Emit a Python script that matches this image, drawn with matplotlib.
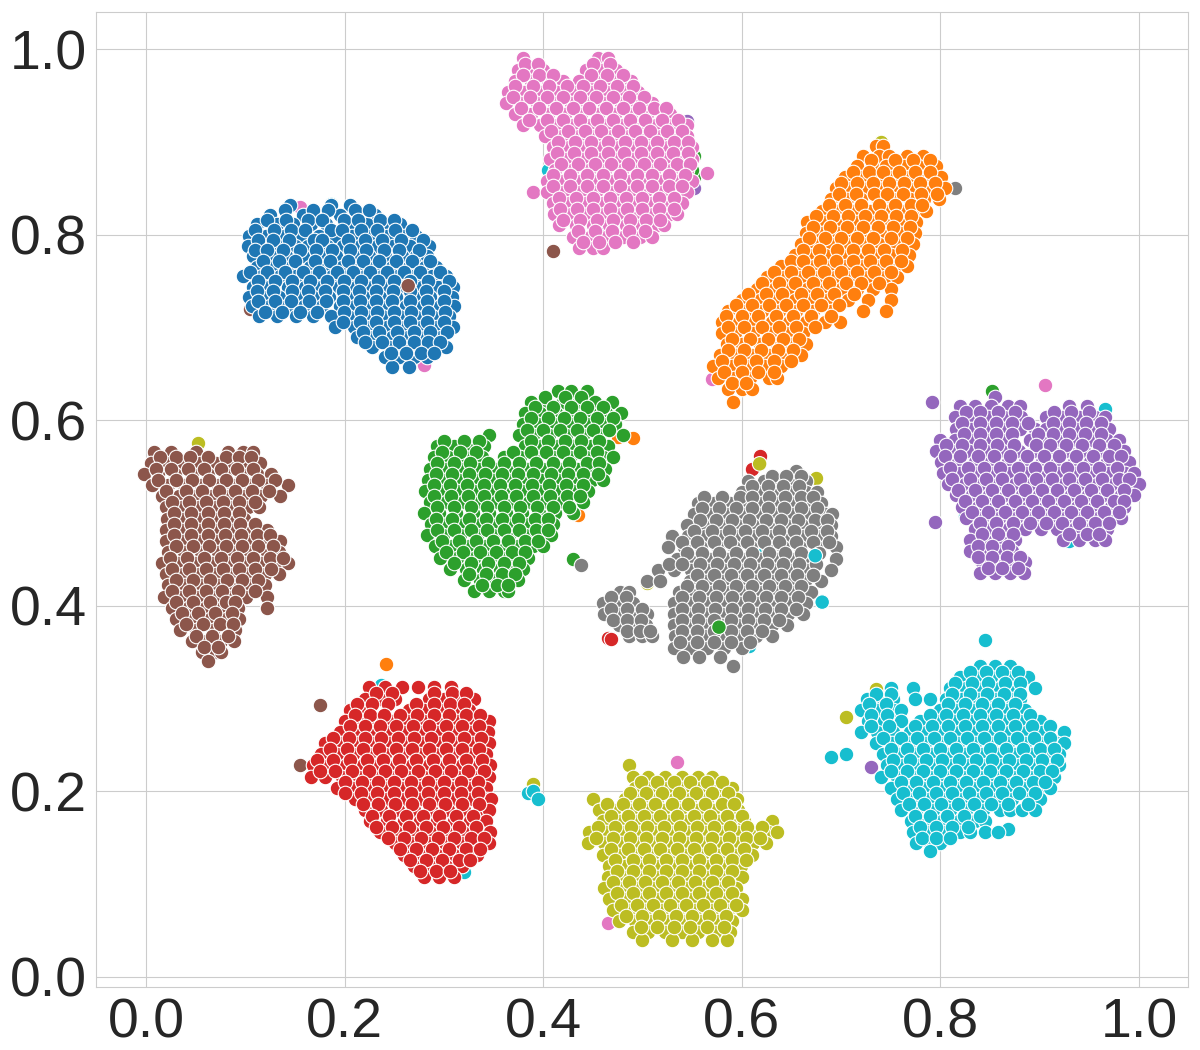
import matplotlib
matplotlib.use('Agg')
import matplotlib.pyplot as plt
import seaborn as sns

# points, row by row (y: [x, x, ...])
blue = {
    .832: [.145, .186, .205],
    .821: [.125, .158, .172, .195, .219, .231],
    .811: [.112, .132, .148, .166, .181, .204, .222, .24, .256],
    .799: [.104, .121, .139, .155, .174, .19, .207, .226, .243, .26, .272],
    .788: [.103, .116, .133, .15, .163, .182, .198, .215, .233, .249, .266, .285],
    .777: [.108, .126, .141, .158, .176, .191, .209, .224, .241, .258, .272, .283],
    .765: [.112, .129, .146, .165, .18, .197, .214, .231, .248, .265, .281, .292],
    .755: [.098, .117, .135, .151, .17, .187, .203, .22, .238, .254, .27, .288, .302],
    .744: [.108, .124, .143, .16, .176, .194, .211, .228, .245, .261, .278, .294, .309],
    .733: [.104, .118, .134, .152, .168, .184, .202, .219, .236, .252, .27, .286, .303, .308],
    .723: [.107, .125, .142, .159, .177, .195, .21, .228, .244, .262, .279, .296, .31],
    .712: [.114, .132, .151, .168, .186, .203, .221, .238, .255, .271, .288, .305],
    .701: [.19, .209, .226, .243, .26, .277, .293, .309],
    .69: [.212, .229, .248, .264, .281, .297],
    .679: [.228, .245, .259, .275, .289, .302],
    .668: [.241, .255, .27, .283],
    .657: [.248, .265],
}
blue2 = {
    .827: [.14, .168, .183, .21, .224],
    .816: [.122, .141, .163, .177, .199, .213, .236, .25],
    .805: [.11, .129, .146, .16, .186, .197, .216, .233, .251, .268],
    .794: [.113, .128, .144, .169, .177, .203, .22, .238, .257, .279],
    .783: [.11, .122, .138, .155, .171, .187, .205, .221, .24, .255, .275],
    .772: [.118, .134, .15, .17, .185, .203, .218, .235, .252, .268, .286],
    .76: [.105, .122, .14, .158, .174, .192, .208, .226, .243, .26, .276, .296],
    .75: [.113, .13, .147, .165, .182, .199, .216, .234, .25, .266, .284, .305],
    .739: [.112, .128, .147, .163, .18, .198, .214, .232, .249, .266, .282, .3],
    .728: [.113, .13, .146, .164, .181, .198, .215, .232, .248, .266, .283, .3],
    .717: [.12, .137, .155, .172, .199, .216, .233, .25, .267, .284, .301],
    .706: [.198, .215, .232, .25, .266, .283, .3],
    .695: [.218, .235, .253, .27, .286, .303],
    .684: [.22, .238, .255, .27, .284, .296],
    .673: [.247, .262, .277, .29],
}
orange = {
    .896: [.735, .742],
    .885: [.722, .738, .748, .766, .783],
    .874: [.716, .731, .745, .763, .778, .796],
    .862: [.704, .721, .736, .751, .768, .783, .801],
    .85: [.695, .71, .727, .743, .758, .776, .792, .805],
    .838: [.69, .706, .72, .737, .752, .769, .784, .799],
    .826: [.681, .696, .713, .729, .744, .76, .775, .786],
    .814: [.666, .684, .701, .716, .733, .749, .764, .776],
    .802: [.665, .681, .697, .712, .728, .745, .76, .775],
    .79: [.66, .673, .69, .706, .722, .738, .755, .772],
    .778: [.654, .668, .684, .7, .718, .733, .75, .768],
    .766: [.64, .656, .673, .69, .705, .722, .739, .755, .766],
    .754: [.625, .643, .66, .677, .694, .71, .727, .744, .756],
    .742: [.615, .632, .649, .666, .683, .7, .716, .732, .75],
    .73: [.6, .618, .635, .654, .67, .686, .707, .727, .75],
    .718: [.586, .603, .62, .638, .655, .672, .69, .722, .745],
    .706: [.58, .597, .612, .63, .648, .665, .684, .699],
    .694: [.58, .593, .611, .628, .645, .662],
    .682: [.585, .6, .618, .635, .65, .665],
    .67: [.578, .594, .61, .627, .644, .66],
    .658: [.571, .59, .607, .622, .64],
    .646: [.576, .592, .608, .627, .635],
    .634: [.586, .6, .61],
    .62: [.591],
}
orange2 = {
    .88: [.73, .754, .772, .79],
    .868: [.712, .728, .742, .758, .775, .79],
    .856: [.7, .716, .732, .748, .763, .78, .795],
    .844: [.698, .715, .733, .746, .762, .781, .797],
    .832: [.688, .704, .72, .738, .754, .77, .782],
    .82: [.675, .692, .707, .724, .74, .755, .77],
    .808: [.672, .689, .706, .722, .737, .752, .769],
    .796: [.668, .684, .7, .716, .732, .75, .766],
    .784: [.662, .678, .696, .712, .727, .743, .761],
    .772: [.65, .662, .679, .695, .712, .729, .745, .76],
    .76: [.632, .65, .667, .683, .7, .716, .733, .75],
    .748: [.62, .638, .654, .672, .688, .705, .72, .738],
    .736: [.606, .624, .641, .66, .676, .693, .713],
    .724: [.594, .61, .627, .645, .662, .68, .698],
    .712: [.584, .6, .616, .634, .652, .67, .69],
    .7: [.586, .602, .62, .637, .655, .674],
    .688: [.59, .608, .626, .642, .658],
    .676: [.586, .602, .619, .636, .652],
    .664: [.58, .598, .614, .632, .65],
    .652: [.582, .6, .616, .632],
    .64: [.59, .604],
}
green = {
    .631: [.415, .428, .444],
    .62: [.388, .403, .42, .436, .452, .469],
    .608: [.382, .397, .413, .43, .447, .463, .478],
    .596: [.38, .395, .411, .428, .444, .46, .472],
    .584: [.345, .376, .39, .406, .423, .44, .456, .48],
    .572: [.293, .31, .326, .34, .382, .398, .415, .43, .448, .465],
    .56: [.29, .304, .321, .338, .36, .377, .393, .41, .427, .443, .46, .47],
    .548: [.286, .302, .318, .335, .351, .367, .384, .4, .417, .434, .45, .462],
    .536: [.284, .299, .315, .332, .349, .365, .381, .398, .415, .432, .449, .46],
    .524: [.281, .296, .313, .33, .346, .362, .379, .396, .413, .43, .445],
    .512: [.286, .302, .319, .336, .352, .369, .386, .402, .419, .44],
    .5: [.28, .295, .312, .329, .345, .362, .379, .396, .412, .43],
    .488: [.287, .303, .32, .337, .354, .37, .386, .403, .41],
    .476: [.283, .299, .316, .333, .349, .366, .382, .398, .408],
    .464: [.291, .308, .325, .342, .358, .375, .39, .4],
    .452: [.296, .313, .33, .346, .362, .378, .385],
    .44: [.306, .322, .339, .356, .372, .38],
    .428: [.32, .336, .352, .368, .375],
    .416: [.33, .345, .36, .365],
}
green2 = {
    .625: [.402, .422, .438],
    .614: [.392, .41, .428, .444, .46],
    .602: [.388, .405, .421, .437, .454, .47],
    .59: [.384, .4, .417, .434, .45, .466],
    .578: [.3, .32, .335, .388, .405, .422, .438, .456],
    .566: [.298, .316, .332, .37, .388, .403, .42, .437, .454],
    .554: [.293, .31, .326, .344, .36, .376, .393, .41, .426, .444, .456],
    .542: [.292, .308, .325, .341, .358, .375, .39, .408, .425, .44, .455],
    .53: [.29, .306, .323, .34, .356, .372, .389, .406, .423, .44],
    .518: [.29, .307, .324, .34, .357, .373, .39, .407, .424, .437],
    .506: [.293, .31, .327, .343, .36, .377, .394, .41, .426],
    .494: [.292, .308, .325, .342, .358, .375, .392, .405],
    .482: [.293, .31, .327, .343, .36, .376, .393, .405],
    .47: [.298, .315, .332, .349, .365, .382, .395],
    .458: [.302, .319, .336, .352, .369, .382],
    .446: [.31, .327, .344, .36, .376],
    .434: [.325, .342, .358, .372],
    .422: [.338, .353, .365],
}
red = {
    .312: [.225, .241, .258, .274, .29, .307],
    .3: [.22, .236, .251, .285, .3, .316, .33],
    .288: [.205, .222, .265, .28, .296, .312, .325],
    .276: [.2, .216, .232, .248, .264, .28, .297, .313, .33, .345],
    .264: [.195, .211, .227, .244, .26, .276, .293, .31, .326, .344],
    .252: [.18, .196, .213, .23, .246, .263, .279, .296, .312, .328, .345],
    .24: [.176, .192, .208, .225, .241, .258, .275, .291, .308, .325, .342],
    .228: [.168, .184, .201, .218, .235, .252, .268, .285, .302, .318, .335, .346],
    .216: [.166, .18, .197, .214, .23, .247, .264, .28, .297, .314, .33, .345],
    .204: [.192, .208, .225, .242, .258, .275, .292, .308, .325, .342],
    .192: [.21, .226, .243, .26, .276, .293, .31, .326, .343, .347],
    .18: [.22, .237, .254, .27, .287, .304, .32, .337, .345],
    .168: [.226, .243, .26, .276, .293, .31, .326, .342],
    .156: [.236, .252, .269, .286, .302, .319, .335, .346],
    .144: [.251, .267, .284, .301, .318, .334, .345],
    .132: [.26, .276, .293, .31, .326, .333],
    .12: [.27, .286, .302, .318],
    .108: [.28, .295, .31],
}
red2 = {
    .306: [.232, .248, .29, .308, .322],
    .294: [.212, .228, .244, .272, .29, .306, .32],
    .282: [.21, .226, .24, .256, .273, .29, .305, .322, .336],
    .27: [.205, .22, .236, .252, .269, .285, .302, .318, .335],
    .258: [.188, .204, .22, .237, .254, .27, .287, .304, .32, .337],
    .246: [.185, .202, .218, .235, .252, .268, .285, .302, .318, .335],
    .234: [.172, .188, .205, .222, .239, .255, .272, .289, .305, .322, .338],
    .222: [.175, .19, .207, .224, .241, .257, .274, .291, .307, .324, .34],
    .21: [.2, .217, .234, .25, .267, .284, .3, .317, .334],
    .198: [.2, .216, .233, .25, .267, .284, .3, .317, .334],
    .186: [.218, .234, .251, .268, .285, .301, .318, .335],
    .174: [.228, .245, .262, .279, .295, .312, .329],
    .162: [.232, .248, .265, .282, .299, .315, .332],
    .15: [.244, .26, .277, .294, .31, .327, .34],
    .138: [.256, .272, .288, .305, .322, .336],
    .126: [.266, .282, .298, .315, .326],
    .114: [.276, .292, .306],
}
purple = {
    .625: [.855],
    .615: [.82, .835, .851, .868, .88, .93, .948],
    .603: [.815, .832, .848, .864, .881, .906, .923, .94, .956, .966],
    .591: [.816, .831, .847, .863, .88, .895, .906, .922, .938, .955, .97],
    .579: [.8, .815, .832, .849, .866, .89, .902, .918, .935, .951, .968, .98],
    .567: [.796, .812, .829, .846, .862, .879, .895, .912, .929, .945, .962, .978, .985],
    .555: [.801, .818, .835, .851, .868, .885, .902, .918, .935, .951, .968, .985, .99],
    .543: [.803, .82, .836, .853, .87, .886, .903, .92, .936, .953, .97, .986, .995],
    .531: [.808, .825, .842, .858, .875, .892, .908, .925, .942, .958, .975, .99, 1.0],
    .519: [.816, .832, .849, .866, .882, .899, .916, .932, .949, .966, .982, .995],
    .507: [.822, .838, .855, .872, .888, .905, .922, .938, .955, .972, .985],
    .495: [.826, .842, .859, .876, .892, .909, .926, .942, .959, .976, .982],
    .483: [.835, .851, .868, .885, .901, .918, .935, .951, .968],
    .471: [.83, .845, .862, .875, .924, .94, .956, .966],
    .459: [.83, .845, .86, .872],
    .447: [.842, .857, .872, .885],
    .435: [.84, .855, .87, .884],
}
purple2 = {
    .609: [.826, .84, .858, .875, .915, .932, .95],
    .597: [.822, .84, .856, .872, .888, .914, .93, .947, .962],
    .585: [.824, .84, .856, .872, .898, .914, .93, .946, .962],
    .573: [.806, .822, .84, .857, .874, .896, .91, .927, .943, .96, .975],
    .561: [.805, .82, .838, .854, .87, .887, .904, .92, .937, .954, .97, .982],
    .549: [.81, .828, .844, .86, .878, .895, .91, .928, .944, .96, .978],
    .537: [.812, .83, .846, .862, .88, .896, .913, .93, .946, .963, .98, .99],
    .525: [.818, .835, .852, .868, .885, .902, .918, .935, .952, .968, .985],
    .513: [.825, .842, .858, .875, .892, .908, .925, .942, .958, .975, .985],
    .501: [.832, .848, .865, .882, .898, .915, .932, .948, .965, .98],
    .489: [.84, .856, .873, .89, .906, .923, .94, .956, .97],
    .477: [.842, .858, .873, .93, .948, .96],
    .465: [.838, .852, .868],
    .453: [.838, .852, .867, .88],
    .441: [.848, .862, .878],
}
brown = {
    .566: [.008, .025, .05, .082, .098, .108],
    .554: [.005, .02, .037, .054, .07, .087, .104, .115],
    .542: [-.002, .012, .029, .046, .062, .079, .096, .112, .126],
    .53: [.006, .022, .038, .055, .072, .088, .105, .122, .143],
    .518: [.016, .033, .05, .066, .083, .1, .116, .135],
    .506: [.02, .036, .053, .07, .086, .103, .114],
    .494: [.021, .037, .054, .07, .087, .099],
    .482: [.02, .036, .053, .07, .086, .103, .122],
    .47: [.02, .037, .054, .07, .087, .104, .12, .135],
    .458: [.022, .038, .055, .072, .088, .105, .122, .134],
    .446: [.016, .032, .049, .066, .082, .099, .116, .132, .143],
    .434: [.02, .037, .053, .07, .087, .103, .12, .134],
    .422: [.022, .039, .056, .072, .089, .106, .12],
    .41: [.018, .034, .051, .068, .084, .101, .122],
    .398: [.026, .042, .059, .076, .093, .122],
    .386: [.03, .047, .064, .08, .094],
    .374: [.034, .05, .067, .084, .09],
    .362: [.046, .06, .075, .089],
    .35: [.056, .07, .075],
    .341: [.062],
}
brown2 = {
    .56: [.014, .03, .044, .062, .08, .094, .106],
    .548: [.01, .025, .042, .058, .075, .092, .108],
    .536: [.012, .03, .046, .063, .08, .097, .113, .13],
    .524: [.02, .04, .056, .073, .09, .107, .124],
    .512: [.026, .043, .06, .077, .094, .11],
    .5: [.028, .045, .062, .078, .094],
    .488: [.028, .045, .062, .078, .095, .11],
    .476: [.028, .045, .062, .079, .096, .112, .125],
    .464: [.03, .047, .063, .08, .097, .113, .128],
    .452: [.024, .041, .058, .075, .092, .108, .125, .138],
    .44: [.026, .043, .06, .077, .094, .11, .126],
    .428: [.03, .047, .064, .081, .097, .113],
    .416: [.026, .043, .06, .076, .093, .11],
    .404: [.03, .047, .064, .08, .09],
    .392: [.036, .052, .069, .086],
    .38: [.04, .057, .074, .088],
    .368: [.05, .066, .082],
    .356: [.058, .072],
}
pink = {
    .99: [.38, .455, .465],
    .978: [.375, .39, .4, .443, .458, .473],
    .966: [.372, .388, .405, .42, .436, .452, .469, .488],
    .954: [.365, .381, .398, .414, .431, .448, .464, .481, .495],
    .942: [.362, .378, .394, .411, .428, .444, .461, .478, .494, .51],
    .93: [.372, .388, .405, .422, .438, .455, .472, .488, .505, .52, .528],
    .918: [.38, .397, .414, .43, .447, .464, .48, .497, .514, .53, .545],
    .906: [.402, .419, .436, .452, .469, .486, .502, .519, .536, .545],
    .894: [.41, .426, .443, .46, .476, .493, .51, .526, .543, .55],
    .882: [.407, .423, .44, .457, .473, .49, .507, .523, .54, .55],
    .87: [.412, .429, .446, .462, .479, .496, .512, .529, .545],
    .858: [.404, .42, .437, .454, .47, .487, .504, .52, .537, .55],
    .846: [.39, .404, .42, .437, .453, .47, .487, .503, .52, .537, .545],
    .834: [.41, .426, .443, .46, .476, .493, .51, .526, .54],
    .822: [.411, .428, .445, .461, .478, .495, .511, .528, .535],
    .81: [.416, .433, .45, .466, .483, .5, .516, .522],
    .798: [.43, .447, .463, .48, .497, .51],
    .786: [.436, .45, .46],
}
pink2 = {
    .984: [.382, .395, .45, .467],
    .972: [.38, .396, .41, .448, .464, .48],
    .96: [.372, .39, .406, .424, .44, .457, .474, .49],
    .948: [.37, .387, .404, .42, .437, .453, .47, .486, .502],
    .936: [.378, .396, .413, .43, .446, .463, .48, .496, .512, .524],
    .924: [.386, .404, .42, .437, .454, .47, .487, .503, .52, .536],
    .912: [.408, .425, .442, .458, .475, .492, .508, .525, .54],
    .9: [.415, .432, .448, .465, .482, .498, .515, .532, .546],
    .888: [.414, .431, .448, .465, .481, .498, .515, .531, .546],
    .876: [.418, .435, .452, .468, .485, .502, .518, .535, .548],
    .864: [.41, .427, .444, .46, .477, .494, .51, .527, .543],
    .852: [.41, .427, .444, .46, .477, .494, .51, .527, .54],
    .84: [.416, .433, .45, .467, .483, .5, .517, .532],
    .828: [.417, .434, .45, .467, .484, .5, .517, .532],
    .816: [.42, .437, .454, .47, .487, .504, .518],
    .804: [.435, .452, .469, .486, .503],
    .792: [.44, .456, .472, .49],
}
gray = {
    .545: [.655],
    .535: [.606, .622, .636, .652, .665],
    .523: [.6, .616, .632, .649, .665, .676],
    .511: [.556, .572, .588, .604, .62, .636, .653, .669, .68],
    .499: [.552, .568, .585, .602, .618, .635, .652, .668, .684, .691],
    .487: [.545, .561, .578, .595, .611, .628, .645, .661, .678, .69],
    .475: [.53, .546, .563, .58, .596, .613, .63, .646, .663, .68, .69],
    .463: [.526, .542, .559, .576, .592, .609, .626, .642, .659, .676, .695],
    .451: [.535, .551, .568, .585, .601, .618, .635, .651, .668, .695],
    .439: [.516, .532, .549, .566, .582, .599, .616, .632, .649, .666, .69],
    .427: [.505, .518, .548, .564, .581, .598, .614, .631, .648, .664, .68],
    .415: [.477, .486, .537, .553, .57, .587, .603, .62, .637, .653, .67],
    .403: [.46, .475, .49, .532, .548, .565, .582, .598, .615, .632, .648, .665],
    .391: [.461, .477, .493, .505, .532, .547, .564, .58, .597, .614, .63, .647, .662],
    .379: [.476, .49, .504, .532, .546, .563, .58, .596, .613, .63, .646],
    .367: [.486, .5, .51, .533, .547, .564, .58, .597, .614, .63],
    .355: [.532, .548, .565, .582, .6],
    .345: [.541, .557, .578],
}
gray2 = {
    .54: [.63, .645, .66],
    .529: [.61, .626, .642, .658],
    .517: [.562, .58, .598, .61, .627, .644, .66, .672],
    .505: [.56, .577, .594, .61, .626, .643, .66, .676],
    .493: [.558, .574, .59, .607, .624, .64, .657, .674, .686],
    .481: [.552, .57, .587, .603, .62, .637, .653, .67, .686],
    .469: [.54, .555, .572, .588, .605, .622, .638, .655, .672, .688],
    .457: [.545, .56, .577, .594, .61, .627, .644, .66, .678],
    .445: [.527, .54, .558, .575, .592, .608, .625, .642, .658, .675],
    .433: [.555, .572, .589, .605, .622, .64, .656, .672],
    .421: [.545, .56, .577, .594, .61, .627, .644, .66],
    .409: [.468, .483, .54, .557, .574, .59, .607, .624, .64, .657],
    .397: [.468, .484, .5, .54, .556, .573, .59, .606, .623, .64, .655],
    .385: [.47, .484, .498, .54, .556, .572, .589, .606, .622, .638],
    .373: [.484, .497, .508, .54, .555, .572, .589, .605, .62],
    .361: [.538, .555, .572, .589, .608],
}
olive = {
    .228: [.486],
    .216: [.49, .506, .523, .54, .556, .57],
    .204: [.492, .508, .525, .541, .558, .575, .59],
    .192: [.45, .482, .498, .515, .532, .548, .565, .582, .595],
    .18: [.456, .471, .488, .505, .521, .538, .555, .571, .588, .596],
    .168: [.46, .477, .494, .51, .527, .544, .56, .577, .594, .602, .63],
    .156: [.446, .463, .479, .496, .513, .529, .546, .563, .579, .596, .612, .626, .635],
    .144: [.445, .461, .478, .495, .512, .528, .545, .562, .578, .595, .611, .624],
    .132: [.46, .476, .493, .51, .526, .543, .56, .576, .593, .61],
    .12: [.466, .482, .499, .516, .532, .549, .566, .582, .599],
    .108: [.465, .481, .498, .515, .531, .548, .565, .581, .6],
    .096: [.461, .477, .494, .511, .527, .544, .561, .577, .594],
    .084: [.466, .482, .499, .516, .532, .549, .566, .582, .6],
    .072: [.47, .486, .503, .52, .536, .553, .57, .586, .6],
    .06: [.476, .492, .509, .526, .542, .559, .576, .59],
    .048: [.49, .506, .523, .54, .556, .573, .588],
    .04: [.5, .53, .55, .57, .585],
}
olive2 = {
    .21: [.498, .515, .532, .548, .565, .58],
    .198: [.487, .504, .52, .537, .554, .57, .586],
    .186: [.464, .48, .496, .513, .53, .546, .563, .58, .592],
    .174: [.468, .485, .502, .518, .535, .552, .568, .585, .6],
    .162: [.455, .472, .488, .505, .522, .538, .555, .572, .588, .605, .62],
    .15: [.453, .47, .487, .504, .52, .537, .554, .57, .587, .604, .618],
    .138: [.468, .485, .502, .518, .535, .552, .568, .585, .602],
    .126: [.472, .49, .507, .524, .54, .557, .574, .59, .604],
    .114: [.474, .49, .507, .524, .54, .557, .574, .59],
    .102: [.47, .486, .503, .52, .536, .553, .57, .586],
    .09: [.474, .49, .507, .524, .54, .557, .574, .59],
    .078: [.478, .494, .511, .528, .544, .561, .578, .594],
    .066: [.483, .5, .517, .534, .55, .567, .584],
    .054: [.498, .515, .532, .548, .565, .582],
}
cyan = {
    .335: [.84, .855, .87],
    .323: [.82, .835, .851, .868, .888],
    .311: [.75, .772, .81, .826, .843, .86, .877, .895],
    .3: [.726, .742, .752, .775, .79, .806, .822, .839, .856, .872, .88],
    .288: [.72, .736, .752, .76, .8, .816, .833, .85, .866, .885],
    .276: [.727, .743, .76, .78, .797, .814, .83, .847, .864, .88, .9],
    .264: [.72, .736, .752, .769, .786, .802, .819, .836, .852, .869, .886, .902, .925],
    .252: [.735, .751, .768, .785, .801, .818, .835, .851, .868, .885, .901, .918, .925],
    .24: [.742, .758, .775, .792, .808, .825, .842, .858, .875, .892, .908, .92],
    .228: [.746, .762, .779, .796, .812, .829, .846, .862, .879, .896, .912, .92],
    .216: [.74, .756, .773, .79, .806, .823, .84, .856, .873, .89, .906, .915],
    .204: [.75, .766, .783, .8, .816, .833, .85, .866, .883, .9, .91],
    .192: [.756, .772, .789, .806, .822, .839, .856, .872, .889, .9],
    .18: [.76, .776, .793, .81, .826, .843, .86, .87, .882, .895],
    .168: [.77, .785, .802, .819, .835, .845],
    .156: [.772, .788, .805, .82, .83, .845, .858],
    .144: [.776, .79, .8],
    .136: [.79],
}
cyan2 = {
    .329: [.83, .846, .862, .878],
    .317: [.815, .832, .848, .865, .88],
    .305: [.735, .75, .812, .83, .847, .864, .88],
    .294: [.728, .745, .808, .825, .842, .858, .875],
    .282: [.73, .746, .79, .806, .823, .84, .856, .873, .89],
    .27: [.73, .748, .775, .792, .808, .825, .842, .858, .875, .892, .91],
    .258: [.742, .76, .777, .794, .81, .827, .844, .86, .877, .894, .91],
    .246: [.75, .766, .783, .8, .816, .833, .85, .866, .883, .9, .915],
    .234: [.752, .769, .786, .802, .819, .836, .852, .869, .886, .902, .918],
    .222: [.75, .766, .783, .8, .816, .833, .85, .866, .883, .9, .912],
    .21: [.76, .776, .793, .81, .826, .843, .86, .876, .893, .905],
    .198: [.762, .779, .796, .812, .829, .846, .862, .879, .895],
    .186: [.768, .784, .801, .818, .834, .851, .868, .888],
    .174: [.775, .79, .807, .824, .84],
    .162: [.78, .796, .812, .828],
    .15: [.782, .796, .81],
}

# stray points that sit away from their own cluster
blue_x = [.464, .62]
blue_y = [.805, .471]
orange_x = [.242, .475, .49, .435, .44, .535]
orange_y = [.337, .582, .581, .498, .53, .37]
green_x = [.43, .852, .552, .552, .74, .59, .55]
green_y = [.45, .632, .885, .862, .9, .37, .87]
red_x = [.61, .618, .465, .468]
red_y = [.547, .561, .365, .364]
purple_x = [.792, .795, .545, .552, .73, .76, .815, .637]
purple_y = [.62, .49, .922, .85, .226, .19, .305, .41]
brown_x = [.175, .155, .105, .41]
brown_y = [.293, .228, .72, .782]
pink_x = [.905, .565, .465, .535, .57, .28, .155]
pink_y = [.638, .867, .058, .232, .645, .66, .83]
gray_x = [.815, .438, .591]
gray_y = [.85, .444, .335]
olive_x = [.052, .39, .675, .74, .705, .735, .265, .505]
olive_y = [.575, .208, .538, .9, .28, .31, .71, .425]
cyan_x = [.237, .18, .385, .39, .395, .32, .405, .186, .966, .825, .93, .69, .705, .845, .868,
          .607, .616, .628, .688]
cyan_y = [.315, .25, .198, .2, .192, .113, .87, .833, .612, .497, .47, .237, .24, .363, .16,
          .357, .455, .478, .495]

# these few lie on top of everything else
top_x = [.264, .577, .674, .681, .618]
top_y = [.745, .377, .454, .404, .553]
top_classes = [5, 2, 9, 9, 8]

clusters = [blue, orange, green, red, purple, brown, pink, gray, olive, cyan]
clusters2 = [blue2, orange2, green2, red2, purple2, brown2, pink2, gray2, olive2, cyan2]
strays = [(blue_x, blue_y), (orange_x, orange_y), (green_x, green_y), (red_x, red_y),
          (purple_x, purple_y), (brown_x, brown_y), (pink_x, pink_y), (gray_x, gray_y),
          (olive_x, olive_y), (cyan_x, cyan_y)]
palette = sns.color_palette('tab10')

sns.set_style('whitegrid')
plt.rcParams['font.family'] = ['Liberation Sans', 'DejaVu Sans']

fig = plt.figure(figsize=(12, 10.5), dpi=100)
ax = fig.add_axes([96 / 1200, 1 - 987 / 1050, (1188 - 96) / 1200, (987 - 12) / 1050])


def draw_rows(rows, color, z):
    xs = [x for y, row in rows.items() for x in row]
    ys = [y for y, row in rows.items() for x in row]
    ax.scatter(xs, ys, s=110, color=color, edgecolor='white', linewidth=0.8, zorder=z)


# strays go under the clusters, a few stick out at the edges
for (sx, sy), color in zip(strays, palette):
    ax.scatter(sx, sy, s=110, color=color, edgecolor='white', linewidth=0.8, zorder=2)
for rows, rows2, color in zip(clusters, clusters2, palette):
    draw_rows(rows, color, 3)
    draw_rows(rows2, color, 4)
ax.scatter(top_x, top_y, s=110, color=[palette[i] for i in top_classes],
           edgecolor='white', linewidth=0.8, zorder=5)

ax.set_xlim(-0.0505, 1.0495)
ax.set_ylim(-0.0108, 1.04)
ax.set_xticks([0, 0.2, 0.4, 0.6, 0.8, 1.0])
ax.set_yticks([0, 0.2, 0.4, 0.6, 0.8, 1.0])
ax.tick_params(axis='x', labelsize=40, pad=4)
ax.tick_params(axis='y', labelsize=40, pad=3)

fig.savefig('out.png', dpi=100)
